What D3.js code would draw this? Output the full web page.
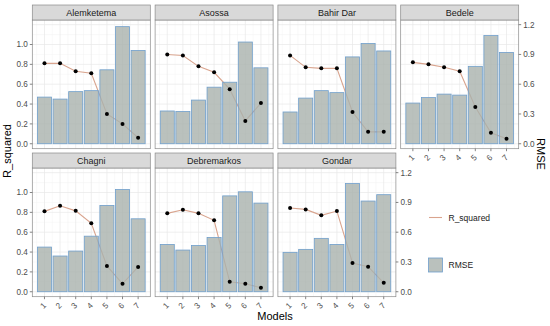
<!DOCTYPE html>
<html>
<head>
<meta charset="utf-8">
<script src="https://cdn.jsdelivr.net/npm/d3@7"></script>
<style>
  body { margin: 0; background: #fff; }
  svg { font-family: "Liberation Sans", Arial, sans-serif; }
</style>
</head>
<body>
<script>
// stations (facets) and models
const stations = ["Alemketema", "Asossa", "Bahir Dar", "Bedele", "Chagni", "Debremarkos", "Gondar"];
const models = [1, 2, 3, 4, 5, 6, 7];

// RMSE per station, model 1..7 (bars)
const rmseAlemketema = [0.47, 0.45, 0.525, 0.535, 0.745, 1.18, 0.94];
const rmseAsossa = [0.33, 0.325, 0.44, 0.57, 0.62, 1.025, 0.765];
const rmseBahirDar = [0.32, 0.46, 0.535, 0.515, 0.875, 1.01, 0.935];
const rmseBedele = [0.41, 0.465, 0.50, 0.49, 0.78, 1.09, 0.92];
const rmseChagni = [0.45, 0.36, 0.41, 0.56, 0.87, 1.03, 0.735];
const rmseDebremarkos = [0.477, 0.42, 0.466, 0.547, 0.966, 1.007, 0.893];
const rmseGondar = [0.397, 0.427, 0.538, 0.477, 1.09, 0.914, 0.978];

// R squared per station (line + points)
const r2Alemketema = [0.81, 0.81, 0.73, 0.71, 0.30, 0.20, 0.06];
const r2Asossa = [0.90, 0.89, 0.78, 0.72, 0.55, 0.23, 0.41];
const r2BahirDar = [0.89, 0.77, 0.76, 0.76, 0.32, 0.12, 0.12];
const r2Bedele = [0.82, 0.80, 0.77, 0.73, 0.37, 0.11, 0.05];
const r2Chagni = [0.81, 0.866, 0.815, 0.69, 0.26, 0.08, 0.25];
const r2Debremarkos = [0.79, 0.826, 0.79, 0.72, 0.10, 0.08, 0.04];
const r2Gondar = [0.844, 0.83, 0.77, 0.813, 0.29, 0.252, 0.09];

const leftTicks = [0, 0.2, 0.4, 0.6, 0.8, 1.0];
const rightTicks = [0, 0.3, 0.6, 0.9, 1.2];

const rmseAll = [rmseAlemketema, rmseAsossa, rmseBahirDar, rmseBedele, rmseChagni, rmseDebremarkos, rmseGondar];
const r2All = [r2Alemketema, r2Asossa, r2BahirDar, r2Bedele, r2Chagni, r2Debremarkos, r2Gondar];

// layout
const W = 550, H = 326;
const panel = { left: 32.3, step: 122.8, width: 118, stripTop: 5, stripH: 15, rowStep: 148, height: 128.7 };
const colors = { bar: "#a9b1ad", barStroke: "#6f9fcc", line: "#d9a48e", grid: "#e8e8e8", gridMinor: "#f3f3f3", border: "#8a8a8a", text: "#4d4d4d" };

const svg = d3.select("body").append("svg").attr("width", W).attr("height", H);

const x = d3.scaleLinear().domain([0.22, 7.78]).range([0, panel.width]);
const y = d3.scaleLinear().domain([-0.05, 1.247]).range([panel.height, 0]);
const barW = x(1.9) - x(1);

stations.forEach((name, i) => {
  const col = i % 4, row = Math.floor(i / 4);
  const px = panel.left + col * panel.step;
  const sy = panel.stripTop + row * panel.rowStep;
  const py = sy + panel.stripH;
  const g = svg.append("g").attr("transform", `translate(${px},${py})`);

  // strip
  svg.append("rect")
    .attr("x", px).attr("y", sy)
    .attr("width", panel.width).attr("height", panel.stripH)
    .attr("fill", "#d9d9d9").attr("stroke", colors.border).attr("stroke-width", 0.7);
  svg.append("text")
    .attr("x", px + panel.width / 2).attr("y", sy + panel.stripH / 2 + 3.2)
    .attr("text-anchor", "middle").attr("font-size", 9).attr("fill", "#1a1a1a")
    .text(name);

  // grid
  const minorY = d3.range(0.1, 1.2, 0.2);
  const majorY = [0, 0.2, 0.4, 0.6, 0.8, 1.0, 1.2];
  g.selectAll(".gy-minor").data(minorY).enter().append("line")
    .attr("x1", 0).attr("x2", panel.width)
    .attr("y1", (d) => y(d)).attr("y2", (d) => y(d))
    .attr("stroke", colors.gridMinor).attr("stroke-width", 0.5);
  g.selectAll(".gx-minor").data(d3.range(0.5, 8, 1)).enter().append("line")
    .attr("y1", 0).attr("y2", panel.height)
    .attr("x1", (d) => x(d)).attr("x2", (d) => x(d))
    .attr("stroke", colors.gridMinor).attr("stroke-width", 0.5);
  g.selectAll(".gy").data(majorY).enter().append("line")
    .attr("x1", 0).attr("x2", panel.width)
    .attr("y1", (d) => y(d)).attr("y2", (d) => y(d))
    .attr("stroke", colors.grid).attr("stroke-width", 0.7);
  g.selectAll(".gx").data(models).enter().append("line")
    .attr("y1", 0).attr("y2", panel.height)
    .attr("x1", (d) => x(d)).attr("x2", (d) => x(d))
    .attr("stroke", colors.grid).attr("stroke-width", 0.7);

  const r2 = r2All[i];
  const rmse = rmseAll[i];

  // R squared line (under bars)
  g.append("path")
    .datum(models)
    .attr("fill", "none")
    .attr("stroke", colors.line)
    .attr("stroke-width", 1.1)
    .attr("d", d3.line().x((d) => x(d)).y((d, k) => y(r2[k])));

  // RMSE bars
  g.selectAll(".bar").data(models).enter().append("rect")
    .attr("x", (d) => x(d) - barW / 2)
    .attr("y", (d, k) => y(rmse[k]))
    .attr("width", barW)
    .attr("height", (d, k) => y(0) - y(rmse[k]))
    .attr("fill", colors.bar).attr("fill-opacity", 0.8)
    .attr("stroke", colors.barStroke).attr("stroke-width", 0.8);

  // points
  g.selectAll(".pt").data(models).enter().append("circle")
    .attr("cx", (d) => x(d)).attr("cy", (d, k) => y(r2[k]))
    .attr("r", 2).attr("fill", "#000");

  // border
  g.append("rect").attr("width", panel.width).attr("height", panel.height)
    .attr("fill", "none").attr("stroke", colors.border).attr("stroke-width", 0.7);

  // left axis
  if (col === 0) {
    const ax = g.append("g");
    leftTicks.forEach((t) => {
      ax.append("line").attr("x1", -2.5).attr("x2", 0).attr("y1", y(t)).attr("y2", y(t))
        .attr("stroke", "#333").attr("stroke-width", 0.6);
      ax.append("text").attr("x", -4.5).attr("y", y(t) + 2.9)
        .attr("text-anchor", "end").attr("font-size", 8.2).attr("fill", colors.text)
        .text(d3.format(".1f")(t));
    });
  }
  // right axis on last panel of each row
  if (col === 3 || i === stations.length - 1) {
    const ax = g.append("g").attr("transform", `translate(${panel.width},0)`);
    rightTicks.forEach((t) => {
      ax.append("line").attr("x1", 0).attr("x2", 2.5).attr("y1", y(t)).attr("y2", y(t))
        .attr("stroke", "#333").attr("stroke-width", 0.6);
      ax.append("text").attr("x", 4.5).attr("y", y(t) + 2.9)
        .attr("text-anchor", "start").attr("font-size", 8.2).attr("fill", colors.text)
        .text(d3.format(".1f")(t));
    });
  }
  // bottom axis where nothing lies below
  if (row === 1 || i + 4 >= stations.length) {
    const ax = g.append("g").attr("transform", `translate(0,${panel.height})`);
    models.forEach((m) => {
      ax.append("line").attr("x1", x(m)).attr("x2", x(m)).attr("y1", 0).attr("y2", 2.5)
        .attr("stroke", "#333").attr("stroke-width", 0.6);
      ax.append("text")
        .attr("transform", `translate(${x(m) - 1.5},${9}) rotate(-45)`)
        .attr("text-anchor", "middle").attr("font-size", 8.2).attr("fill", colors.text)
        .attr("dy", "0.35em")
        .text(m);
    });
  }
});

// axis titles
svg.append("text").attr("x", 275).attr("y", 320).attr("text-anchor", "middle")
  .attr("font-size", 11).attr("fill", "#000").text("Models");
svg.append("text").attr("transform", "translate(11,151) rotate(-90)").attr("text-anchor", "middle")
  .attr("font-size", 11).attr("fill", "#000").text("R_squared");
svg.append("text").attr("transform", "translate(537,154) rotate(90)").attr("text-anchor", "middle")
  .attr("font-size", 11).attr("fill", "#000").text("RMSE");

// legend
const lg = svg.append("g").attr("transform", "translate(427,0)");
lg.append("line").attr("x1", 2).attr("x2", 15).attr("y1", 217.5).attr("y2", 217.5)
  .attr("stroke", colors.line).attr("stroke-width", 1.1);
lg.append("text").attr("x", 21.5).attr("y", 220.5).attr("font-size", 8.5).attr("fill", "#1a1a1a").text("R_squared");
lg.append("rect").attr("x", 1.5).attr("y", 258).attr("width", 14).attr("height", 14)
  .attr("fill", colors.bar).attr("fill-opacity", 0.8)
  .attr("stroke", colors.barStroke).attr("stroke-width", 0.8);
lg.append("text").attr("x", 21.5).attr("y", 268).attr("font-size", 8.5).attr("fill", "#1a1a1a").text("RMSE");
</script>
</body>
</html>
